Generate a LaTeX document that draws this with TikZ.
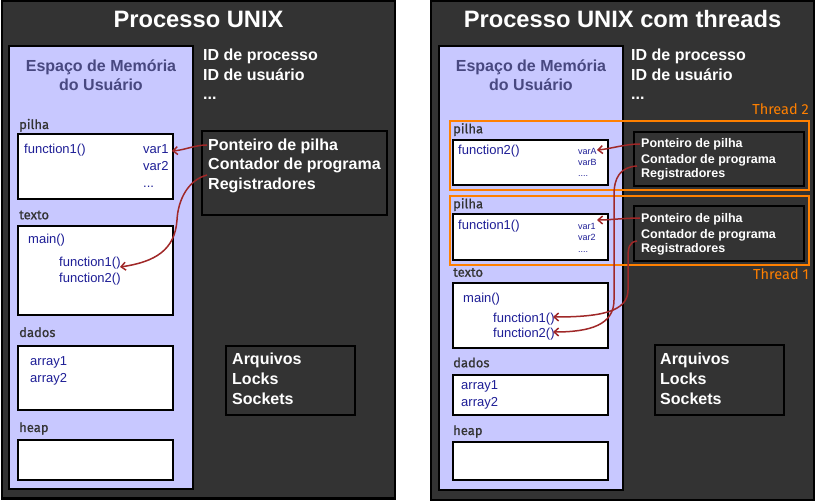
\documentclass[tikz,border=0pt]{standalone}
\usepackage{fontspec}
\setmainfont{Liberation Sans}
\newfontfamily\lblfont{Fira Sans}[FakeBold=0.8]
\newfontfamily\thrfont{Fira Sans}
\usetikzlibrary{arrows.meta}
\definecolor{panel}{RGB}{51,51,51}
\definecolor{mem}{RGB}{200,200,255}
\definecolor{memtitle}{RGB}{72,72,128}
\definecolor{code}{RGB}{30,30,150}
\definecolor{arr}{RGB}{160,40,40}
\definecolor{thr}{RGB}{255,128,0}
\definecolor{lbl}{RGB}{51,51,51}
\tikzset{
  panelbox/.style={draw=black, fill=panel, line width=2pt},
  membox/.style={draw=black, fill=mem, line width=2pt},
  segbox/.style={draw=black, fill=white, line width=2pt},
  darkbox/.style={draw=black, fill=panel, line width=2pt},
  thrbox/.style={draw=thr, line width=2pt},
  ptitle/.style={inner sep=0pt, anchor=base, text=white, font=\bfseries\fontsize{23.7}{28}\selectfont},
  memt/.style={inner sep=0pt, anchor=base, text=memtitle, font=\bfseries\fontsize{16}{19}\selectfont},
  info/.style={inner sep=0pt, anchor=base west, text=white, font=\bfseries\fontsize{16}{19}\selectfont},
  infosm/.style={inner sep=0pt, anchor=base west, text=white, font=\bfseries\fontsize{12.5}{15}\selectfont},
  seglbl/.style={inner sep=0pt, anchor=base west, text=lbl, font=\lblfont\fontsize{13}{15}\selectfont},
  codet/.style={inner sep=0pt, anchor=base west, text=code, font=\fontsize{13}{15}\selectfont},
  codesm/.style={inner sep=0pt, anchor=base west, text=code, font=\fontsize{9}{11}\selectfont},
  thrlbl/.style={inner sep=0pt, anchor=base east, text=thr, font=\thrfont\fontsize{14.5}{17}\selectfont},
  arrowline/.style={draw=arr, line width=1.5pt, -{Straight Barb[length=4.5pt,width=8pt]}},
}
\begin{document}
\begin{tikzpicture}[x=1pt,y=-1pt]
\path[use as bounding box, fill=white] (0,0) rectangle (817,502);

% ================= LEFT PANEL =================
\draw[panelbox] (1.5,1.5) rectangle (395,498.5);
\node[ptitle] (tL) at (198.5,28) {Processo UNIX};
\draw[membox] (9,46) rectangle (193,489);
\node[memt] (mL1) at (101,71.5) {Espaço de Memória};
\node[memt] (mL2) at (101,90.5) {do Usuário};
\node[info] (iL1) at (203,61) {ID de processo};
\node[info] (iL2) at (203,81) {ID de usuário};
\node[info] (iL3) at (203,100) {...};

% pilha
\node[seglbl] (lpL) at (19,129) {pilha};
\draw[segbox] (18,134) rectangle (173,199);
\node[codet] (f1L) at (24,154) {function1()};
\node[codet] (v1L) at (143,154) {var1};
\node[codet] (v2L) at (143,170.5) {var2};
\node[codet] (v3L) at (143,188) {...};
% texto
\node[seglbl] (ltL) at (19,219.3) {texto};
\draw[segbox] (18,226) rectangle (173,315);
\node[codet] (mainL) at (28,244) {main()};
\node[codet] (tf1L) at (59,266.7) {function1()};
\node[codet] (tf2L) at (59,282.3) {function2()};
% dados
\node[seglbl] (ldL) at (19,337) {dados};
\draw[segbox] (18,346) rectangle (173,410);
\node[codet] (a1L) at (30,366) {array1};
\node[codet] (a2L) at (30,382.7) {array2};
% heap
\node[seglbl] (lhL) at (19,432) {heap};
\draw[segbox] (18,440) rectangle (173,480);

% thread state
\draw[darkbox] (202,131) rectangle (387,215);
\node[info] (ppL) at (208,150.5) {Ponteiro de pilha};
\node[info] (cpL) at (208,170) {Contador de programa};
\node[info] (rgL) at (208,189.5) {Registradores};

% resources
\draw[darkbox] (226,346) rectangle (355,415);
\node[info] (arqL) at (232,364.3) {Arquivos};
\node[info] (lckL) at (232,384.3) {Locks};
\node[info] (sckL) at (232,404.3) {Sockets};

% arrows
\coordinate (aL1s) at (207,145);
\coordinate (aL1e) at (172,151);
\draw[arrowline] (aL1s) .. controls (195,145) and (185,150) .. (aL1e);
\coordinate (aL2s) at (207,175);
\coordinate (aL2e) at (120,267);
\draw[arrowline] (aL2s) .. controls (188,180) and (178,200) .. (177,220)
  .. controls (175,250) and (155,262) .. (aL2e);

% ================= RIGHT PANEL =================
\draw[panelbox] (430.5,1.5) rectangle (814,499.5);
\node[ptitle] (tR) at (622.5,28) {Processo UNIX com threads};
\draw[membox] (439,46) rectangle (623,490);
\node[memt] (mR1) at (531,71.5) {Espaço de Memória};
\node[memt] (mR2) at (531,90.5) {do Usuário};
\node[info] (iR1) at (631,61) {ID de processo};
\node[info] (iR2) at (631,81) {ID de usuário};
\node[info] (iR3) at (631,100) {...};

% thread 2
\node[thrlbl] (th2) at (809,115) {Thread 2};
\node[seglbl] (lp2) at (453,133.3) {pilha};
\draw[segbox] (453,140) rectangle (608,185);
\node[codet] (f2R) at (458,154.3) {function2()};
\node[codesm] (vaR) at (578,155) {varA};
\node[codesm] (vbR) at (578,165.7) {varB};
\node[codesm] (vcR) at (578,177) {....};
\draw[darkbox] (634,132) rectangle (804,186);
\node[infosm] (pp2) at (641,147.7) {Ponteiro de pilha};
\node[infosm] (cp2) at (641,163.3) {Contador de programa};
\node[infosm] (rg2) at (641,177.7) {Registradores};
\draw[thrbox] (450,121) rectangle (809,190);

% thread 1
\node[seglbl] (lp1) at (453,208.3) {pilha};
\draw[segbox] (453,214) rectangle (608,260);
\node[codet] (f1R) at (458,229.3) {function1()};
\node[codesm] (v1R) at (578,230) {var1};
\node[codesm] (v2R) at (578,240.7) {var2};
\node[codesm] (v3R) at (578,252.3) {....};
\draw[darkbox] (634,206) rectangle (804,261);
\node[infosm] (pp1) at (641,222.7) {Ponteiro de pilha};
\node[infosm] (cp1) at (641,238.3) {Contador de programa};
\node[infosm] (rg1) at (641,252.7) {Registradores};
\draw[thrbox] (450,196) rectangle (809,265);
\node[thrlbl] (th1) at (809,280) {Thread 1};

% texto
\node[seglbl] (ltR) at (453,276.7) {texto};
\draw[segbox] (453,283) rectangle (608,348);
\node[codet] (mainR) at (463,302.7) {main()};
\node[codet] (tf1R) at (493,322.3) {function1()};
\node[codet] (tf2R) at (493,337.7) {function2()};
% dados
\node[seglbl] (ldR) at (453,367.3) {dados};
\draw[segbox] (453,375) rectangle (608,415);
\node[codet] (a1R) at (461,390) {array1};
\node[codet] (a2R) at (461,406.7) {array2};
% heap
\node[seglbl] (lhR) at (453,435) {heap};
\draw[segbox] (453,442) rectangle (608,480);

% resources
\draw[darkbox] (655,345) rectangle (784,415);
\node[info] (arqR) at (660,364.3) {Arquivos};
\node[info] (lckR) at (660,384.3) {Locks};
\node[info] (sckR) at (660,404.3) {Sockets};

% arrows
\coordinate (b1s) at (640,144);
\coordinate (b1e) at (597,150);
\draw[arrowline] (b1s) .. controls (625,144) and (610,149) .. (b1e);
\coordinate (b2s) at (637,166);
\coordinate (b2e) at (553,332);
\draw[arrowline] (b2s) .. controls (620,167) and (614,178) .. (614,195)
  -- (614,300) .. controls (614,325) and (590,332) .. (b2e);
\coordinate (c1s) at (640,218);
\coordinate (c1e) at (597,220);
\draw[arrowline] (c1s) .. controls (625,218) and (610,220) .. (c1e);
\coordinate (c2s) at (637,241);
\coordinate (c2e) at (553,317);
\draw[arrowline] (c2s) .. controls (629,242) and (628,248) .. (628,258)
  -- (628,290) .. controls (628,312) and (600,317) .. (c2e);
\end{tikzpicture}
\end{document}
